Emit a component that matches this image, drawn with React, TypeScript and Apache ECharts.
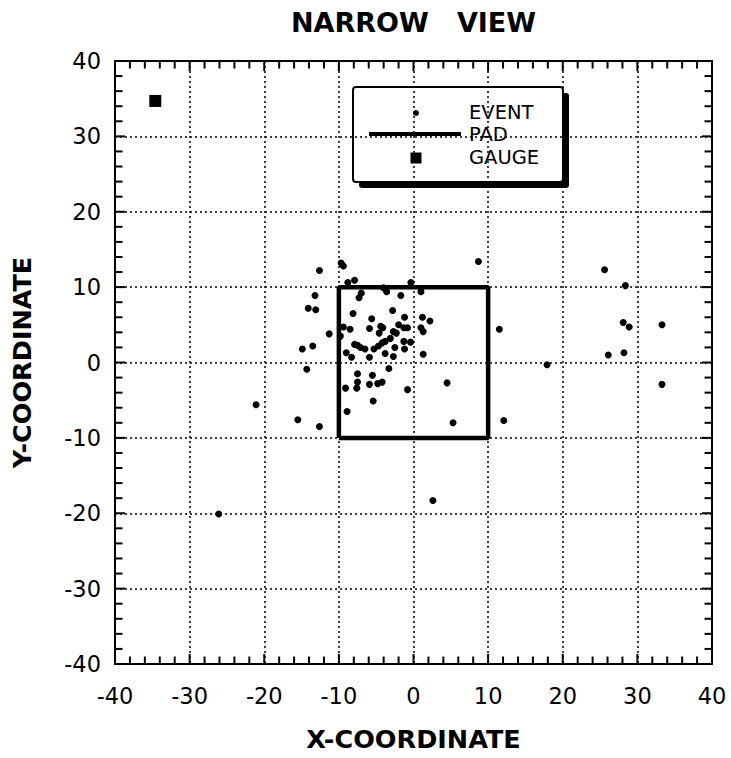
import React, { useEffect, useRef } from "react";
import * as echarts from "echarts";

const TITLE = "NARROW   VIEW";
const X_NAME = "X-COORDINATE";
const Y_NAME = "Y-COORDINATE";
const AXIS_MIN = -40;
const AXIS_MAX = 40;
const AXIS_STEP = 10;
const MINOR_STEP = 2;

const LEGEND_LABELS = ["EVENT", "PAD", "GAUGE"];

const EVENTS: [number, number][] = [
  [-12.6, 12.2], [-9.7, 13.2], [-9.4, 12.8], [-8.8, 10.6], [-7.9, 10.9],
  [-13.2, 8.9], [-14.1, 7.2], [-13.1, 7.0], [-7.0, 9.2], [-7.3, 8.6],
  [-8.1, 6.5], [-11.3, 3.8], [-9.4, 4.7], [-8.5, 4.4], [-9.8, 3.5],
  [-14.9, 1.8], [-13.5, 2.2], [-14.3, -0.9], [-7.9, 2.4], [-7.5, 2.3],
  [-7.1, 2.0], [-9.0, 1.3], [-8.3, 0.7], [-6.5, 1.8], [-5.9, 4.5],
  [-5.6, 5.8], [-5.9, 0.7], [-5.3, 1.8], [-4.4, 4.8], [-4.1, 4.6],
  [-4.6, 3.9], [-4.7, 2.2], [-4.2, 2.6], [-3.8, 2.8], [-3.1, 3.2],
  [-3.8, 1.2], [-7.5, -1.5], [-7.5, -2.6], [-7.6, -3.4], [-5.5, -1.7],
  [-5.9, -2.9], [-4.8, -2.8], [-4.2, -2.6], [-9.1, -3.4], [-5.4, -5.1],
  [-8.9, -6.5], [-21.1, -5.6], [-15.5, -7.6], [-12.6, -8.5], [-3.3, -0.8],
  [-4.0, 9.9], [-3.6, 9.4], [-0.35, 10.6], [-1.7, 8.9], [1.0, 9.4],
  [-2.8, 6.9], [-1.2, 6.0], [1.2, 6.0], [2.2, 5.5], [-2.0, 5.0],
  [-1.3, 4.6], [-0.8, 4.6], [-2.7, 4.1], [-2.3, 3.9], [1.0, 4.6],
  [1.3, 4.1], [-1.3, 2.8], [-0.4, 2.7], [-2.5, 2.0], [-1.2, 1.8],
  [-2.7, 0.8], [1.3, 1.1], [-0.8, -3.6], [4.5, -2.7], [5.3, -8.0],
  [11.5, 4.4], [12.1, -7.7], [8.7, 13.4], [-26.1, -20.1], [2.6, -18.3],
  [17.9, -0.3], [25.6, 12.3], [28.4, 10.2], [28.1, 5.3], [28.9, 4.7],
  [33.3, 5.0], [26.1, 1.0], [28.2, 1.3], [33.3, -2.9],
];

const PAD: [number, number][] = [
  [-10, -10], [10, -10], [10, 10], [-10, 10], [-10, -10],
];

const GAUGE: [number, number][] = [[-34.6, 34.7]];

const FONT = "'DejaVu Sans', 'Liberation Sans', Arial, sans-serif";

export default function App() {
  const ref = useRef<HTMLDivElement>(null);

  useEffect(() => {
    document.body.style.margin = "0";
    if (!ref.current) return;
    const chart = echarts.init(ref.current, undefined, { renderer: "svg" });

    const W = 731, H = 758;
    const gridLeft = 115;
    const gridRight = 19;
    const gridTop = 61;
    const gridBottom = 94;
    const plotW = W - gridLeft - gridRight;
    const plotCenterX = gridLeft + plotW / 2;

    const tickValues: number[] = [];
    for (let v = AXIS_MIN + MINOR_STEP; v < AXIS_MAX; v += MINOR_STEP) tickValues.push(v);

    const axisLine = { show: true, onZero: false, lineStyle: { color: "#000", width: 2 } };
    const splitLine = { show: true, lineStyle: { color: "#000", width: 1.5, type: [2, 3] as any } };
    const label = { fontFamily: FONT, fontSize: 22.5, color: "#000" };
    const nameStyle = { fontFamily: FONT, fontSize: 25.5, fontWeight: "bold" as const, color: "#000" };

    const base = {
      type: "value" as const, min: AXIS_MIN, max: AXIS_MAX, interval: AXIS_STEP, axisLine,
      axisTick: { show: false }, minorTick: { show: false },
    };
    const frameAxis = { ...base, splitLine: { show: false }, axisLabel: { show: false } };

    const lx = 353, ly = 87, lw = 210, lh = 95, sh = 6;

    const staticGraphics: any[] = [
      {
        id: "title", type: "text", x: plotCenterX, y: 22, z: 10,
        style: { text: TITLE, fontFamily: FONT, fontSize: 27, fontWeight: "bold", fill: "#000", align: "center", verticalAlign: "middle" },
      },
      {
        id: "legend", type: "group", z: 10,
        children: [
          { type: "rect", shape: { x: lx + sh, y: ly + sh, width: lw, height: lh, r: 3 }, style: { fill: "#000" } },
          { type: "rect", shape: { x: lx, y: ly, width: lw, height: lh, r: 3 }, style: { fill: "#fff", stroke: "#000", lineWidth: 2 } },
          { type: "circle", shape: { cx: 416, cy: 113, r: 3 }, style: { fill: "#000" } },
          { type: "line", shape: { x1: 369, y1: 134, x2: 461, y2: 134 }, style: { stroke: "#000", lineWidth: 4 } },
          { type: "rect", shape: { x: 410.5, y: 152.5, width: 11, height: 11 }, style: { fill: "#000" } },
          ...LEGEND_LABELS.map((t, i) => ({
            type: "text", x: 469, y: [112, 134, 157][i],
            style: { text: t, fontFamily: FONT, fontSize: 19.5, fill: "#000", verticalAlign: "middle" },
          })),
        ],
      },
    ];

    chart.setOption({
      animation: false,
      grid: { left: gridLeft, right: gridRight, top: gridTop, bottom: gridBottom },
      xAxis: [
        {
          ...base, position: "bottom", splitLine,
          axisLabel: { ...label, margin: 20 },
          name: X_NAME, nameLocation: "middle", nameGap: 62, nameTextStyle: nameStyle,
        },
        { ...frameAxis, position: "top" },
      ],
      yAxis: [
        {
          ...base, position: "left", splitLine,
          axisLabel: { ...label, margin: 14 },
          name: Y_NAME, nameLocation: "middle", nameGap: 80, nameTextStyle: nameStyle,
        },
        { ...frameAxis, position: "right" },
      ],
      series: [
        {
          name: "PAD", type: "line", data: PAD, symbol: "none",
          lineStyle: { color: "#000", width: 4.5 }, z: 3,
        },
        {
          name: "EVENT", type: "scatter", data: EVENTS, symbol: "circle", symbolSize: 7,
          itemStyle: { color: "#000", opacity: 1 }, z: 4,
        },
        {
          name: "GAUGE", type: "scatter", data: GAUGE, symbol: "rect", symbolSize: 12,
          itemStyle: { color: "#000", opacity: 1 }, z: 4,
        },
      ],
      graphic: staticGraphics,
    });

    // inner tick marks on all four sides, positioned through the chart's own scales
    const tickGraphics: any[] = [];
    tickValues.forEach((v, i) => {
      const len = Math.abs(v % AXIS_STEP) < 1e-9 ? 10 : 7.5;
      const b = chart.convertToPixel({ gridIndex: 0 }, [v, AXIS_MIN]) as number[];
      const t = chart.convertToPixel({ gridIndex: 0 }, [v, AXIS_MAX]) as number[];
      const l = chart.convertToPixel({ gridIndex: 0 }, [AXIS_MIN, v]) as number[];
      const r = chart.convertToPixel({ gridIndex: 0 }, [AXIS_MAX, v]) as number[];
      const st = { stroke: "#000", lineWidth: 2 };
      tickGraphics.push(
        { id: "tb" + i, type: "line", z: 20, shape: { x1: b[0], y1: b[1], x2: b[0], y2: b[1] - len }, style: st },
        { id: "tt" + i, type: "line", z: 20, shape: { x1: t[0], y1: t[1], x2: t[0], y2: t[1] + len }, style: st },
        { id: "tl" + i, type: "line", z: 20, shape: { x1: l[0], y1: l[1], x2: l[0] + len, y2: l[1] }, style: st },
        { id: "tr" + i, type: "line", z: 20, shape: { x1: r[0], y1: r[1], x2: r[0] - len, y2: r[1] }, style: st },
      );
    });
    chart.setOption({ graphic: [...staticGraphics, ...tickGraphics] });

    return () => chart.dispose();
  }, []);

  return <div ref={ref} style={{ width: 731, height: 758 }} />;
}
